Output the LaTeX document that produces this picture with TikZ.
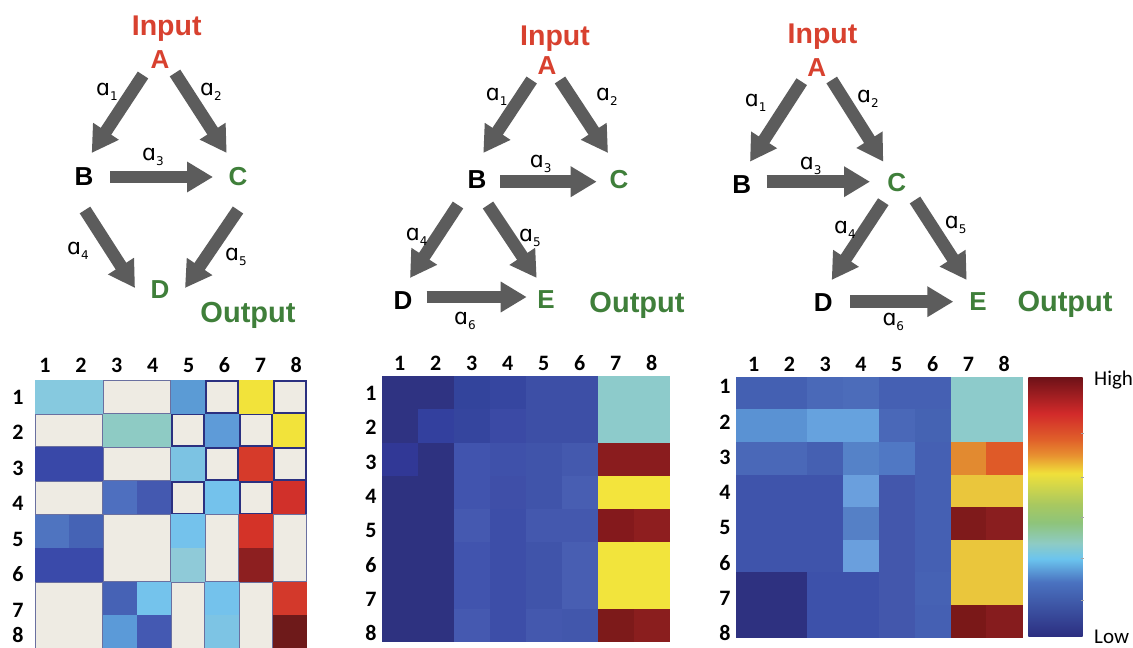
\documentclass[tikz,border=0pt]{standalone}
\usepackage{fontspec}
\setmainfont{Liberation Sans}
\newfontfamily\numfont{Carlito}
\newfontfamily\alfont{DejaVu Sans}
\usetikzlibrary{arrows.meta}

\definecolor{inred}{HTML}{D8412F}
\definecolor{outgreen}{HTML}{3F7F3A}
\definecolor{arrowgray}{HTML}{5C5C5C}
\definecolor{navyline}{HTML}{2B3080}
\definecolor{thinline}{HTML}{6A70A0}
% colour bar stops
\definecolor{cbA}{HTML}{6E1218}
\definecolor{cbB}{HTML}{D22A2A}
\definecolor{cbC}{HTML}{E0602A}
\definecolor{cbD}{HTML}{E89030}
\definecolor{cbE}{HTML}{F0E03A}
\definecolor{cbF}{HTML}{A8C860}
\definecolor{cbG}{HTML}{8EC47A}
\definecolor{cbH}{HTML}{8ECBC4}
\definecolor{cbI}{HTML}{6BC4EE}
\definecolor{cbJ}{HTML}{4A72C0}
\definecolor{cbK}{HTML}{2C2E80}
\pgfdeclareverticalshading{jetbar}{100bp}{%
  color(0bp)=(cbK); color(25bp)=(cbK); color(35.5bp)=(cbJ); color(40bp)=(cbI);
  color(43bp)=(cbH); color(47bp)=(cbG); color(50.5bp)=(cbF); color(56.5bp)=(cbE);
  color(60bp)=(cbD); color(63bp)=(cbC); color(68bp)=(cbB); color(75bp)=(cbA);
  color(100bp)=(cbA)}

\newcommand\sub[1]{\raisebox{-0.45ex}{\fontsize{12}{12}\selectfont #1}}

% #1,#2: top-left corner; #3,#4: cell width and height; #5: rows of hex colours
\newcommand\heatgrid[5]{%
  \foreach \row [count=\r] in {#5} {
    \foreach \c [count=\k] in \row {
      \edef\tmpdef{\noexpand\definecolor{cellc}{HTML}{\c}}\tmpdef
      \fill[cellc] ({#1+(\k-1)*#3},{#2+(\r-1)*#4}) rectangle ++({#3+0.4},{#4+0.4});
    }
  }%
}

\tikzset{
  letter/.style={font=\bfseries\fontsize{26}{26}\selectfont, inner sep=0pt, anchor=center},
  inlab/.style={font=\bfseries\fontsize{28.5}{28.5}\selectfont, text=inred, inner sep=0pt, anchor=base},
  outlab/.style={font=\bfseries\fontsize{29}{29}\selectfont, text=outgreen, inner sep=0pt, anchor=base},
  alab/.style={font=\alfont\fontsize{22}{22}\selectfont, inner sep=0pt, anchor=center},
  bigarrow/.style={draw=arrowgray, line width=12.5pt, -{Triangle[length=26pt,width=29pt]}},
  ticklab/.style={font=\numfont\bfseries\fontsize{22}{22}\selectfont, inner sep=0pt, anchor=center},
  barlab/.style={font=\numfont\fontsize{21}{21}\selectfont, inner sep=0pt, anchor=base west},
}

\begin{document}
\begin{tikzpicture}[x=1pt,y=-1pt]
\useasboundingbox (0,0) rectangle (1133,648);
\fill[white] (0,0) rectangle (1133,648);

% ---------- network 1 ----------
\node[inlab] (p1in) at (166.7,35) {Input};
\node[letter,text=inred] (p1A) at (160,60) {A};
\node[letter] (p1B) at (84,177) {B};
\node[letter,text=outgreen] (p1C) at (238,177) {C};
\node[letter,text=outgreen] (p1D) at (160,290) {D};
\node[outlab] (p1out) at (248,322) {Output};
\coordinate (p1a1s) at (143,75);   \coordinate (p1a1e) at (91.7,153);
\coordinate (p1a2s) at (175,73);   \coordinate (p1a2e) at (226.7,153);
\coordinate (p1a3s) at (110,177);  \coordinate (p1a3e) at (213,177);
\coordinate (p1a4s) at (85,210);   \coordinate (p1a4e) at (135,288);
\coordinate (p1a5s) at (238,210);  \coordinate (p1a5e) at (185,288);
\foreach \i in {1,...,5} \draw[bigarrow] (p1a\i s) -- (p1a\i e);
\node[alab] (p1l1) at (107,92) {ɑ\sub{1}};
\node[alab] (p1l2) at (211,92) {ɑ\sub{2}};
\node[alab] (p1l3) at (153,157) {ɑ\sub{3}};
\node[alab] (p1l4) at (78,251) {ɑ\sub{4}};
\node[alab] (p1l5) at (236,257) {ɑ\sub{5}};

% ---------- network 2 ----------
\node[inlab] (p2in) at (555,45) {Input};
\node[letter,text=inred] (p2A) at (547,66) {A};
\node[letter] (p2B) at (477,180) {B};
\node[letter,text=outgreen] (p2C) at (619,180) {C};
\node[letter] (p2D) at (403,301) {D};
\node[letter,text=outgreen] (p2E) at (546,300) {E};
\node[outlab] (p2out) at (637,312) {Output};
\coordinate (p2a1s) at (531.7,80);  \coordinate (p2a1e) at (483.3,153);
\coordinate (p2a2s) at (560,80);    \coordinate (p2a2e) at (608,153);
\coordinate (p2a3s) at (500,181.7); \coordinate (p2a3e) at (596.7,181.7);
\coordinate (p2a4s) at (458,205);   \coordinate (p2a4e) at (410,278);
\coordinate (p2a5s) at (488,205);   \coordinate (p2a5e) at (536.7,278);
\coordinate (p2a6s) at (426.7,297); \coordinate (p2a6e) at (526.7,297);
\foreach \i in {1,...,6} \draw[bigarrow] (p2a\i s) -- (p2a\i e);
\node[alab] (p2l1) at (496.7,97) {ɑ\sub{1}};
\node[alab] (p2l2) at (607,97) {ɑ\sub{2}};
\node[alab] (p2l3) at (540.7,164) {ɑ\sub{3}};
\node[alab] (p2l4) at (416.7,237) {ɑ\sub{4}};
\node[alab] (p2l5) at (530,238) {ɑ\sub{5}};
\node[alab] (p2l6) at (465,321) {ɑ\sub{6}};

% ---------- network 3 ----------
\node[inlab] (p3in) at (822.5,43) {Input};
\node[letter,text=inred] (p3A) at (816.7,68) {A};
\node[letter] (p3B) at (741.7,185) {B};
\node[letter,text=outgreen] (p3C) at (896.7,183) {C};
\node[letter] (p3D) at (823.3,303) {D};
\node[letter,text=outgreen] (p3E) at (978,302) {E};
\node[outlab] (p3out) at (1065,311) {Output};
\coordinate (p3a1s) at (801.7,81.7); \coordinate (p3a1e) at (750,161.7);
\coordinate (p3a2s) at (831.7,80);   \coordinate (p3a2e) at (883.3,161.7);
\coordinate (p3a3s) at (766.7,181.7);\coordinate (p3a3e) at (870,181.7);
\coordinate (p3a4s) at (883.3,201.7);\coordinate (p3a4e) at (831.7,280);
\coordinate (p3a5s) at (915,200);    \coordinate (p3a5e) at (966.7,280);
\coordinate (p3a6s) at (850,301.7);  \coordinate (p3a6e) at (953.3,301.7);
\foreach \i in {1,...,6} \draw[bigarrow] (p3a\i s) -- (p3a\i e);
\node[alab] (p3l1) at (755.7,103) {ɑ\sub{1}};
\node[alab] (p3l2) at (868,99) {ɑ\sub{2}};
\node[alab] (p3l3) at (810.7,166) {ɑ\sub{3}};
\node[alab] (p3l4) at (845,230) {ɑ\sub{4}};
\node[alab] (p3l5) at (955.7,225) {ɑ\sub{5}};
\node[alab] (p3l6) at (893.3,321.7) {ɑ\sub{6}};

% ---------- heat map 1 ----------
\heatgrid{35}{380}{34}{33.6}{%
 {86C9DF,86C9DF,EEEBE3,EEEBE3,5B9BD5,EEEBE3,F2E33A,EEEBE3},
 {EEEBE3,EEEBE3,8ECBC4,8ECBC4,EEEBE3,5E9BD8,EEEBE3,F2E33A},
 {3948A8,3948A8,EEEBE3,EEEBE3,7CC3E3,EEEBE3,D63A2A,EEEBE3},
 {EEEBE3,EEEBE3,4E6FBF,4459B0,EEEBE3,74C2EC,EEEBE3,D1302A},
 {4F74C0,4563B5,EEEBE3,EEEBE3,74C2EC,EEEBE3,D43328,EEEBE3},
 {3A4AAA,3A4AAA,EEEBE3,EEEBE3,8FCAD8,EEEBE3,8D1F20,EEEBE3},
 {EEEBE3,EEEBE3,4662B5,74C3EC,EEEBE3,74C2EC,EEEBE3,D3392B},
 {EEEBE3,EEEBE3,5B9AD8,4459B2,EEEBE3,7DC4E4,EEEBE3,6E1A1A}}
% thin outlines round the pale blocks
\foreach \cx/\ry/\nw/\nh in {3/1/2/1,1/2/2/1,3/3/2/1,1/4/2/1,3/5/2/2,6/5/1/2,8/5/1/2,1/7/2/2,5/7/1/2,7/7/1/2}
  \draw[thinline,line width=0.8pt] ({35+(\cx-1)*34+0.4},{380+(\ry-1)*33.6+0.4}) rectangle ++({\nw*34-0.8},{\nh*33.6-0.8});
% heavier outlines in the right half
\foreach \cx/\ry in {6/1,8/1,5/2,7/2,6/3,8/3,5/4,7/4}
  \draw[navyline,line width=1.8pt] ({35+(\cx-1)*34+0.9},{380+(\ry-1)*33.6+0.9}) rectangle ++(32.2,31.8);
\draw[navyline,line width=1.6pt] (306.2,380) -- (306.2,514.4);
\foreach \k in {1,...,8}
  \node[ticklab] (h1c\k) at ({45+(\k-1)*35.9},365) {\k};
\foreach \k in {1,...,7}
  \node[ticklab] (h1r\k) at (18,{397+(\k-1)*35.5}) {\k};
\node[ticklab] (h1r8) at (18,635) {8};

% ---------- heat map 2 ----------
\heatgrid{381.7}{376}{36}{33.25}{%
 {2F3382,2F3382,33449C,3646A0,3D4FA6,3D4FA6,8DCBCB,8DCBCB},
 {2F3382,33409E,35459E,3B4AA5,3D4FA6,3D4FA6,8DCBCB,8DCBCB},
 {313896,2E3280,4154AE,3F51AA,4054AA,4459AE,8A1C1E,8A1C1E},
 {2E3280,2E3280,4154AE,3F4FA8,4054AA,485EB2,F3E43C,F3E43C},
 {2E3280,2E3280,4559B0,3D4EA8,4458AE,4458AE,84191C,8E1E1F},
 {2E3280,2E3280,4154AE,3D4EA8,4054AA,485EB2,F2E43C,F2E43C},
 {2E3280,2E3280,4154AE,3D4EA8,4054AA,485EB2,F2E43C,F2E43C},
 {2E3280,2E3280,4559B0,3D4EA8,4458AE,4257AC,7D1A1A,8A1E1E}}
\foreach \k in {1,...,8} {
  \node[ticklab] (h2c\k) at ({399.7+(\k-1)*36},363) {\k};
  \node[ticklab] (h2r\k) at (371,{393.3+(\k-1)*34.3}) {\k};
}

% ---------- heat map 3 ----------
\heatgrid{735.7}{376.7}{35.8}{32.6}{%
 {4460B2,4460B2,4A69B8,4C6CBA,4560B3,4560B3,8DCBCB,8DCBCB},
 {5A92D3,5A92D3,66A2DE,66A2DE,4A68B8,4563B3,8DCBCB,8DCBCB},
 {4A68B8,4A68B8,4560B2,5582C8,5078C4,4560B3,E28A30,DF5A28},
 {3F54AB,3F54AB,3F54AB,6A9FDD,4357AC,4560B3,EAC63C,EAC63C},
 {3F54AB,3F54AB,3F54AB,5580C6,4357AC,4560B3,7F1A1B,8A1E1F},
 {3F54AB,3F54AB,3F54AB,6A9FDD,4357AC,4560B3,EAC63C,EAC63C},
 {2E3180,2E3180,3D51AA,3D51AA,4357AC,4662B4,EAC63C,EAC63C},
 {2E3180,2E3180,3D51AA,3D51AA,4357AC,4560B3,7A1818,861C1E}}
\foreach \k in {1,...,8} {
  \node[ticklab] (h3c\k) at ({753.6+(\k-1)*35.8},364) {\k};
  \node[ticklab] (h3r\k) at (725,{386.7+(\k-1)*35.2}) {\k};
}

% ---------- colour bar ----------
\shade[shading=jetbar] (1028.3,377.3) rectangle (1082.7,636.7);
\foreach \t in {433,477,517,558,600}
  \draw[gray!70,line width=0.6pt] (1081,\t) -- (1083.5,\t);
\node[barlab] (hi) at (1094,385) {High};
\node[barlab] (lo) at (1094,643) {Low};
\end{tikzpicture}
\end{document}
